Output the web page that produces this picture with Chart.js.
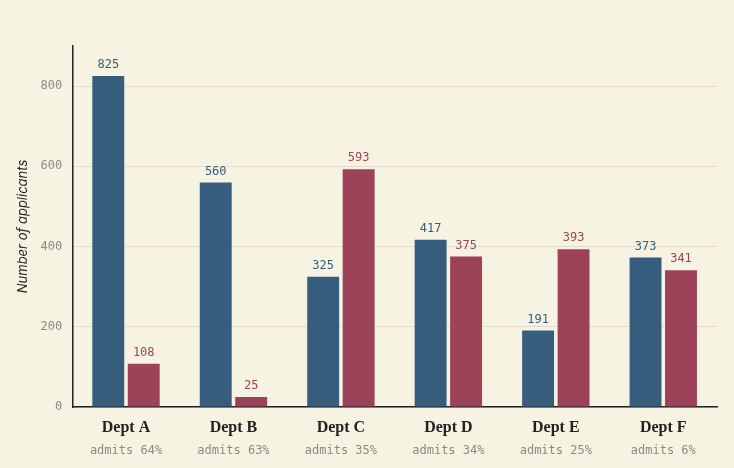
<!DOCTYPE html>
<html>
<head>
<meta charset="utf-8">
<script src="https://cdn.jsdelivr.net/npm/chart.js@4"></script>
<style>
  html, body { margin: 0; padding: 0; background: #f7f3e3; }
  #wrap { width: 734px; height: 468px; }
</style>
</head>
<body>
<div id="wrap"><canvas id="myChart"></canvas></div>
<script>
var depts = ["Dept A", "Dept B", "Dept C", "Dept D", "Dept E", "Dept F"];
var admitRates = ["admits 64%", "admits 63%", "admits 35%", "admits 34%", "admits 25%", "admits 6%"];
var menApplicants = [825, 560, 325, 417, 191, 373];
var womenApplicants = [108, 25, 593, 375, 393, 341];
var yTicks = [0, 200, 400, 600, 800];

var blue = "#365c7e";
var red = "#9c4259";

// values above bars + two-line category labels
var labelPlugin = {
  id: "labels",
  afterDatasetsDraw: function(chart) {
    var ctx = chart.ctx;
    ctx.save();
    ctx.font = "12px 'DejaVu Sans Mono'";
    ctx.textAlign = "center";
    ctx.textBaseline = "bottom";
    chart.data.datasets.forEach(function(ds, i) {
      chart.getDatasetMeta(i).data.forEach(function(bar, j) {
        ctx.fillStyle = ds.backgroundColor;
        ctx.fillText(ds.data[j], bar.x, bar.y - 5);
      });
    });
    var x = chart.scales.x;
    var bottom = chart.chartArea.bottom;
    depts.forEach(function(d, j) {
      var cx = x.getPixelForValue(j);
      ctx.fillStyle = "#222222";
      ctx.font = "bold 16px 'Liberation Serif'";
      ctx.textBaseline = "middle";
      ctx.fillText(d, cx, bottom + 21);
      ctx.fillStyle = "#8a8a86";
      ctx.font = "12px 'DejaVu Sans Mono'";
      ctx.fillText(admitRates[j], cx, bottom + 44);
    });
    ctx.restore();
  }
};

new Chart("myChart", {
  type: "bar",
  data: {
    labels: depts,
    datasets: [{
      label: "Men",
      data: menApplicants,
      backgroundColor: blue
    }, {
      label: "Women",
      data: womenApplicants,
      backgroundColor: red
    }]
  },
  options: {
    responsive: true,
    maintainAspectRatio: false,
    animation: false,
    layout: { padding: { top: 46, right: 17, bottom: 61, left: 11 } },
    plugins: {
      legend: { display: false },
      tooltip: { enabled: false }
    },
    datasets: {
      bar: { categoryPercentage: 0.66, barPercentage: 0.9 }
    },
    scales: {
      x: {
        grid: { display: false, drawTicks: false },
        border: { display: true, color: "#222222", width: 1.5 },
        ticks: { display: false }
      },
      y: {
        min: 0,
        max: 900,
        afterBuildTicks: function(axis) {
          axis.ticks = yTicks.map(function(v) { return { value: v }; });
        },
        grid: { color: "#e2dcc8", drawTicks: false },
        border: { display: true, color: "#222222", width: 1.5 },
        ticks: {
          padding: 10,
          color: "#8a8a86",
          font: { family: "'DejaVu Sans Mono'", size: 12 }
        },
        title: {
          display: true,
          text: "Number of applicants",
          color: "#222222",
          font: { family: "Inter", style: "italic", size: 13 },
          padding: { bottom: 0 }
        }
      }
    }
  },
  plugins: [labelPlugin]
});
</script>
</body>
</html>
